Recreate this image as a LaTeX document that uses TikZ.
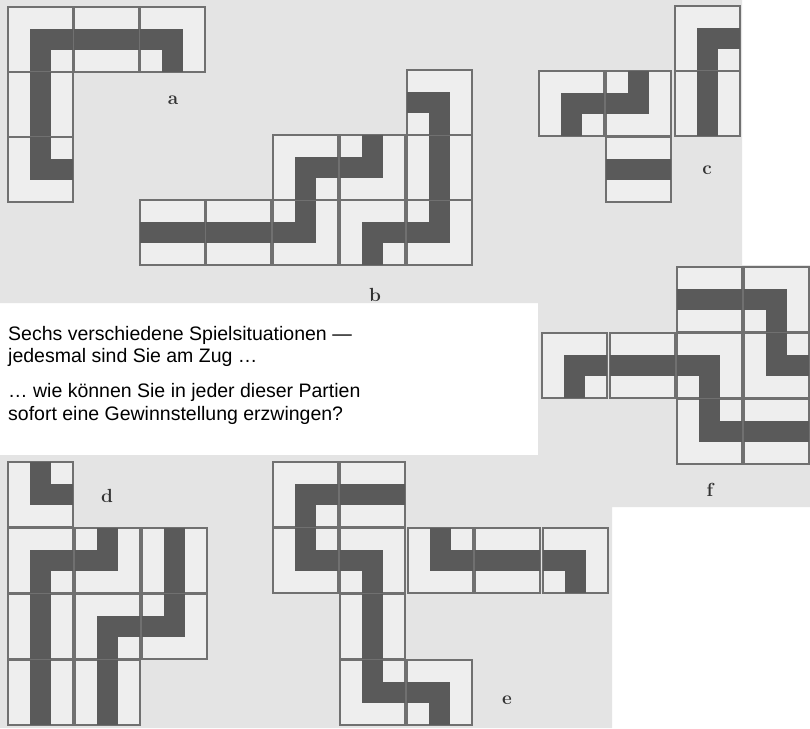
\documentclass[tikz,border=0pt]{standalone}
\usepackage{fontspec}
\newfontfamily\captionfont{Liberation Sans}

\definecolor{paper}{HTML}{E4E4E4}
\definecolor{tilefill}{HTML}{EEEEEE}
\definecolor{tileline}{HTML}{707070}
\definecolor{pathgray}{HTML}{5A5A5A}

\tikzset{
    tile/.style={draw=tileline, fill=tilefill, line width=1.2pt,
        minimum size=65pt, inner sep=0pt, outer sep=0pt},
    band/.style={draw=pathgray, line width=21pt, line join=miter, line cap=butt},
    letter/.style={text=black!80, font=\fontsize{19}{19}\selectfont\bfseries},
    caption/.style={anchor=base west, inner sep=0pt,
        font=\captionfont\fontsize{19.5}{23}\selectfont}
}

\begin{document}
\begin{tikzpicture}[x=1pt, y=-1pt]
        \useasboundingbox (0,0) rectangle (810,728);
        \fill[white] (0,0) rectangle (810,728);
        \fill[paper] (0,0) -- (742,0) -- (742,265) -- (810,265) -- (810,507)
            -- (612,507) -- (612,728) -- (0,728) -- (0,455) -- (538,455)
            -- (538,303) -- (0,303) -- cycle;

        % tiles: name / left / top / entry / exit
        \foreach \n/\x/\y/\p/\q in {
            a1/8/7/east/south, a2/74/7/west/east, a3/140/7/west/south,
            a4/8/72/north/south, a5/8/137/north/east,
            b1/140/200/west/east, b2/206/200/west/east, b3/273/200/west/north,
            b4/340/200/south/east, b5/407/200/west/north, b6/273/135/east/south,
            b7/340/135/north/west, b8/407/135/north/south, b9/407/70/west/south,
            c1/675/6/east/south, c2/539/71/east/south, c3/606/71/north/west,
            c4/675/71/north/south, c5/606/137/west/east,
            d1/8/462/north/east, d2/8/528/east/south, d3/75/528/north/west,
            d4/142/528/north/south, d5/8/594/north/south, d6/75/594/east/south,
            d7/142/594/north/west, d8/8/660/north/south, d9/75/660/north/south,
            e1/273/462/east/south, e2/340/462/west/east, e3/273/528/north/east,
            e4/340/528/west/south, e5/408/528/north/east, e6/475/528/west/east,
            e7/543/528/west/south, e8/340/594/north/south, e9/340/660/north/east,
            e10/407/660/west/south,
            f1/677/267/west/east, f2/744/267/west/south, f3/542/333/east/south,
            f4/610/333/west/east, f5/677/333/west/south, f6/744/333/north/east,
            f7/677/399/north/east, f8/744/399/west/east} {
            \node[tile] (\n) at (\x+32.5,\y+32.5) {};
            \draw[band] (\n.\p) -- (\n.center) -- (\n.\q);
        }

        \node[letter] (la) at (173,100) {a};
        \node[letter] (lb) at (375,295) {b};
        \node[letter] (lc) at (707,170) {c};
        \node[letter] (ld) at (107,496) {d};
        \node[letter] (le) at (507,700) {e};
        \node[letter] (lf) at (710,490) {f};

        \node[caption] (t1) at (8,340) {Sechs verschiedene Spielsituationen —};
        \node[caption] (t2) at (8,362) {jedesmal sind Sie am Zug …};
        \node[caption] (t3) at (8,397) {… wie können Sie in jeder dieser Partien};
        \node[caption] (t4) at (8,420) {sofort eine Gewinnstellung erzwingen?};
\end{tikzpicture}
\end{document}
